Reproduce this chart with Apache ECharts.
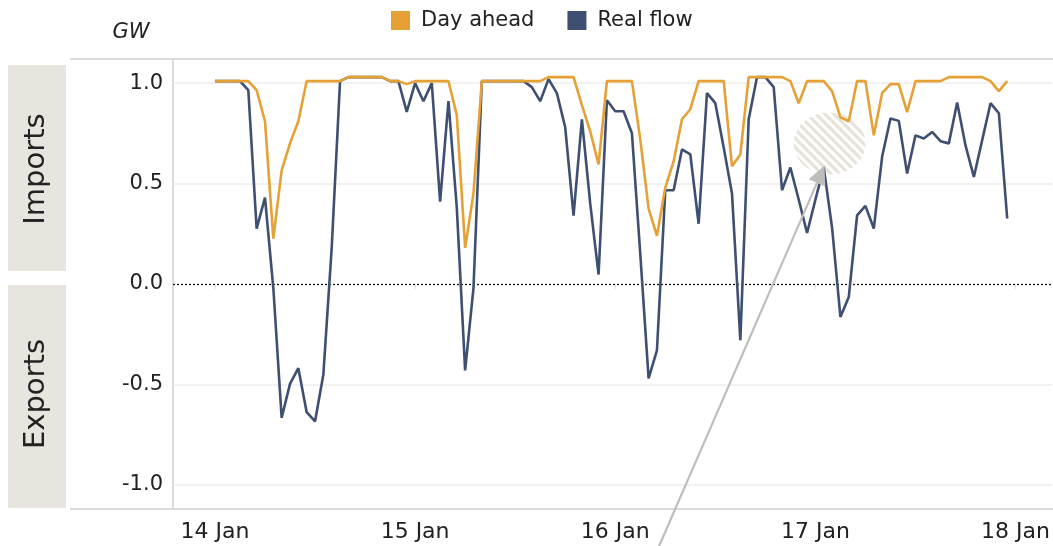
<!DOCTYPE html>
<html>
<head>
<meta charset="utf-8">
<script src="https://cdn.jsdelivr.net/npm/echarts@6/dist/echarts.min.js"></script>
<style>
  html, body { margin: 0; padding: 0; background: #fff; }
  #flow { width: 1053px; height: 546px; }
</style>
</head>
<body>
<div id="flow"></div>
<script>
// hourly values, 14 Jan 00:00 -> 17 Jan 23:00 (GW)
var dayAhead = [
  1.01, 1.01, 1.01, 1.01, 1.01, 0.965, 0.81, 0.226, 0.566, 0.70, 0.81, 1.01,
  1.01, 1.01, 1.01, 1.01, 1.03, 1.03, 1.03, 1.03, 1.03, 1.01, 1.01, 0.995,
  1.01, 1.01, 1.01, 1.01, 1.01, 0.84, 0.18, 0.45, 1.01, 1.01, 1.01, 1.01,
  1.01, 1.01, 1.01, 1.01, 1.03, 1.03, 1.03, 1.03, 0.89, 0.76, 0.595, 1.01,
  1.01, 1.01, 1.01, 0.72, 0.375, 0.24, 0.48, 0.61, 0.82, 0.87, 1.01, 1.01,
  1.01, 1.01, 0.586, 0.645, 1.03, 1.03, 1.03, 1.03, 1.03, 1.01, 0.90, 1.01,
  1.01, 1.01, 0.96, 0.83, 0.81, 1.01, 1.01, 0.74, 0.95, 0.995, 0.995, 0.855,
  1.01, 1.01, 1.01, 1.01, 1.03, 1.03, 1.03, 1.03, 1.03, 1.01, 0.96, 1.01
];
var realFlow = [
  1.01, 1.01, 1.01, 1.01, 0.965, 0.276, 0.43, -0.02, -0.666, -0.497, -0.419, -0.638,
  -0.684, -0.45, 0.18, 1.01, 1.03, 1.03, 1.03, 1.03, 1.03, 1.01, 1.01, 0.857,
  1.0, 0.91, 1.0, 0.41, 0.91, 0.38, -0.43, -0.02, 1.01, 1.01, 1.01, 1.01,
  1.01, 1.01, 0.98, 0.91, 1.02, 0.95, 0.78, 0.34, 0.82, 0.40, 0.047, 0.915,
  0.86, 0.86, 0.75, 0.15, -0.47, -0.33, 0.467, 0.467, 0.67, 0.645, 0.30, 0.95,
  0.90, 0.68, 0.45, -0.28, 0.82, 1.03, 1.03, 0.98, 0.467, 0.58, 0.42, 0.254,
  0.42, 0.58, 0.28, -0.164, -0.065, 0.342, 0.389, 0.276, 0.633, 0.824, 0.812, 0.55,
  0.74, 0.724, 0.757, 0.711, 0.70, 0.904, 0.69, 0.533, 0.716, 0.90, 0.85, 0.326
];
var dayLabels = ['14 Jan', '15 Jan', '16 Jan', '17 Jan', '18 Jan'];
var dayTicks = [0, 24, 48, 72, 96];          // hours since 14 Jan 00:00
var yTicks = [-1, -0.5, 0, 0.5, 1];
var gridLines = [-1, -0.5, 0.5, 1];

var FONT = 'DejaVu Sans';
var ORANGE = '#e5a136';
var NAVY = '#3e4f72';

function pairs(arr) {
  var out = [];
  for (var i = 0; i < arr.length; i++) out.push([i, arr[i]]);
  return out;
}

var chart = echarts.init(document.getElementById('flow'), null, { renderer: 'canvas' });

var option = {
  animation: false,
  textStyle: { fontFamily: FONT },
  legend: {
    data: ['Day ahead', 'Real flow'],
    left: 386,
    top: 5,
    itemWidth: 19,
    itemHeight: 19,
    itemGap: 33,
    icon: 'rect',
    textStyle: { fontFamily: FONT, fontSize: 21, color: '#222', padding: [0, 0, 0, 6] }
  },
  grid: { left: 173, right: 0, top: 59, bottom: 37 },
  xAxis: {
    type: 'value',
    min: -5.03,
    max: 100.3,
    axisLine: { show: false },
    splitLine: { show: false },
    axisTick: {
      show: true, customValues: dayTicks, length: 5,
      lineStyle: { color: '#e2e2e2' }
    },
    axisLabel: {
      customValues: dayTicks,
      fontFamily: FONT, fontSize: 22, color: '#222', margin: 12,
      formatter: function (v) { return dayLabels[Math.round(v / 24)]; }
    }
  },
  yAxis: {
    type: 'value',
    min: -1.12,
    max: 1.12,
    axisLine: { show: true, onZero: false, lineStyle: { color: '#cfcfcf', width: 1.5 } },
    axisTick: { show: false },
    splitLine: { show: false },
    axisLabel: {
      customValues: yTicks,
      fontFamily: FONT, fontSize: 21, color: '#222', margin: 10,
      formatter: function (v) { return v.toFixed(1); }
    }
  },
  series: [
    {
      name: 'Real flow',
      type: 'line',
      data: pairs(realFlow),
      showSymbol: false,
      symbol: 'none',
      z: 3,
      lineStyle: { color: NAVY, width: 2.6 },
      itemStyle: { color: NAVY },
      markLine: {
        silent: true,
        symbol: 'none',
        label: { show: false },
        z: 1,
        data: gridLines.map(function (g) {
          return { yAxis: g, lineStyle: { color: '#ececec', width: 1.5, type: 'solid' } };
        }).concat([{ yAxis: 0, lineStyle: { color: '#111', width: 1.3, type: [2, 2] } }])
      }
    },
    {
      name: 'Day ahead',
      type: 'line',
      data: pairs(dayAhead),
      showSymbol: false,
      symbol: 'none',
      z: 4,
      lineStyle: { color: ORANGE, width: 2.6 },
      itemStyle: { color: ORANGE }
    }
  ]
};
chart.setOption(option);

// decorations: frame lines, side labels, "GW", annotation arrow + hatched blob
var frameTop = 59, frameBottom = 509, frameRight = 1053;

var pc = document.createElement('canvas');
pc.width = 9; pc.height = 9;
var pctx = pc.getContext('2d');
pctx.strokeStyle = '#e6e3da';
pctx.lineWidth = 3.2;
pctx.beginPath();
pctx.moveTo(-2, -2); pctx.lineTo(11, 11);
pctx.moveTo(-2, 7); pctx.lineTo(2, 11);
pctx.moveTo(7, -2); pctx.lineTo(11, 2);
pctx.stroke();
var hatchUrl = pc.toDataURL();

var tip = chart.convertToPixel({ gridIndex: 0 }, [73.1, 0.59]);
var tail = chart.convertToPixel({ gridIndex: 0 }, [53.2, -1.31]);
var blob = chart.convertToPixel({ gridIndex: 0 }, [73.7, 0.70]);
var ang = Math.atan2(tip[1] - tail[1], tip[0] - tail[0]);
var hl = 19, hw = 9;
var bx = tip[0] - hl * Math.cos(ang), by = tip[1] - hl * Math.sin(ang);
var nx = -Math.sin(ang), ny = Math.cos(ang);

chart.setOption({
  graphic: [
    { type: 'line', z: 0, shape: { x1: 70, y1: frameTop, x2: frameRight, y2: frameTop }, style: { stroke: '#cfcfcf', lineWidth: 1.5 } },
    { type: 'line', z: 0, shape: { x1: 70, y1: frameBottom, x2: frameRight, y2: frameBottom }, style: { stroke: '#cfcfcf', lineWidth: 1.5 } },
    { type: 'rect', z: 0, shape: { x: 8, y: 65, width: 58, height: 206 }, style: { fill: '#e8e5de' } },
    { type: 'rect', z: 0, shape: { x: 8, y: 285, width: 58, height: 223 }, style: { fill: '#e8e5de' } },
    {
      type: 'text', z: 1, x: 36, y: 169, rotation: Math.PI / 2,
      style: { text: 'Imports', fontFamily: FONT, fontSize: 29, fill: '#222', align: 'center', verticalAlign: 'middle' }
    },
    {
      type: 'text', z: 1, x: 36, y: 394, rotation: Math.PI / 2,
      style: { text: 'Exports', fontFamily: FONT, fontSize: 29, fill: '#222', align: 'center', verticalAlign: 'middle' }
    },
    {
      type: 'text', z: 1, x: 131, y: 33,
      style: { text: 'GW', fontFamily: FONT, fontStyle: 'italic', fontSize: 21, fill: '#222', align: 'center', verticalAlign: 'middle' }
    },
    {
      type: 'ellipse', z: 2,
      shape: { cx: blob[0], cy: blob[1], rx: 36, ry: 31 },
      style: { fill: { image: hatchUrl, repeat: 'repeat' } }
    },
    {
      type: 'line', z: 5,
      shape: { x1: tail[0], y1: tail[1], x2: bx, y2: by },
      style: { stroke: '#bdbdbd', lineWidth: 2.2 }
    },
    {
      type: 'polygon', z: 5,
      shape: { points: [[tip[0], tip[1]], [bx + nx * hw, by + ny * hw], [bx - nx * hw, by - ny * hw]] },
      style: { fill: '#bdbdbd' }
    }
  ]
});
</script>
</body>
</html>
